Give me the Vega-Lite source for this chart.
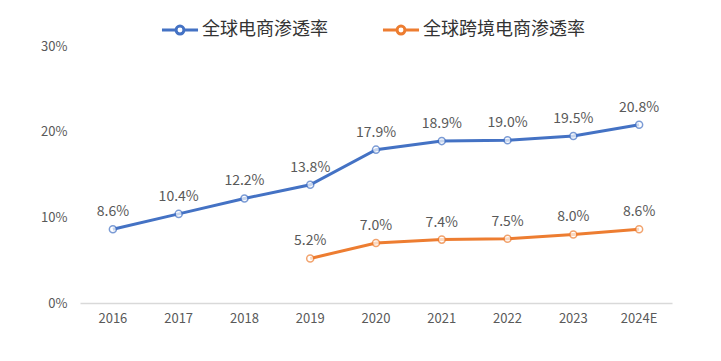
{
  "$schema": "https://vega.github.io/schema/vega-lite/v6.json",
  "width": 592,
  "height": 257,
  "autosize": {"type": "none"},
  "padding": {"left": 80, "top": 46, "right": 49, "bottom": 58},
  "background": "white",
  "config": {
    "font": "Noto Sans CJK SC",
    "view": {"stroke": null}
  },
  "data": {
    "values": [
      {"year": "2016", "series": "全球电商渗透率", "v": 0.086},
      {"year": "2017", "series": "全球电商渗透率", "v": 0.104},
      {"year": "2018", "series": "全球电商渗透率", "v": 0.122},
      {"year": "2019", "series": "全球电商渗透率", "v": 0.138},
      {"year": "2020", "series": "全球电商渗透率", "v": 0.179},
      {"year": "2021", "series": "全球电商渗透率", "v": 0.189},
      {"year": "2022", "series": "全球电商渗透率", "v": 0.190},
      {"year": "2023", "series": "全球电商渗透率", "v": 0.195},
      {"year": "2024E", "series": "全球电商渗透率", "v": 0.208},
      {"year": "2019", "series": "全球跨境电商渗透率", "v": 0.052},
      {"year": "2020", "series": "全球跨境电商渗透率", "v": 0.070},
      {"year": "2021", "series": "全球跨境电商渗透率", "v": 0.074},
      {"year": "2022", "series": "全球跨境电商渗透率", "v": 0.075},
      {"year": "2023", "series": "全球跨境电商渗透率", "v": 0.080},
      {"year": "2024E", "series": "全球跨境电商渗透率", "v": 0.086}
    ]
  },
  "encoding": {
    "x": {
      "field": "year", "type": "ordinal", "sort": null,
      "scale": {"type": "band", "paddingInner": 0, "paddingOuter": 0},
      "axis": {
        "title": null, "labelAngle": 0, "ticks": false, "domainColor": "#d9d9d9", "domainWidth": 1.5,
        "labelColor": "#595959", "labelFontSize": 13, "labelPadding": 9, "grid": false
      }
    },
    "y": {
      "field": "v", "type": "quantitative",
      "scale": {"domain": [0, 0.3]},
      "axis": {
        "title": null, "format": ".0%", "values": [0, 0.1, 0.2, 0.3], "labelOverlap": false,
        "ticks": false, "domain": false, "grid": false,
        "labelColor": "#595959", "labelFontSize": 13, "labelPadding": 13
      }
    }
  },
  "layer": [
    {
      "mark": {"type": "line", "strokeWidth": 3},
      "encoding": {
        "color": {
          "field": "series", "type": "nominal",
          "scale": {"domain": ["全球电商渗透率", "全球跨境电商渗透率"], "range": ["#4472C4", "#ED7D31"]},
          "legend": {
            "title": null, "orient": "none", "direction": "horizontal",
            "legendX": 80, "legendY": -36,
            "symbolType": "M-1,0H-0.22M0.22,0H1M0.22,0A0.22,0.22 0 1,1 -0.22,0A0.22,0.22 0 1,1 0.22,0",
            "symbolSize": 1300, "symbolStrokeWidth": 3,
            "labelFontSize": 18, "labelColor": "#333333", "columnPadding": 48, "labelOffset": 2,
            "labelLimit": 400,
            "encode": {"symbols": {"update": {"fill": {"value": "white"}}}}
          }
        }
      }
    },
    {
      "mark": {"type": "point", "filled": true, "fill": "white", "size": 50, "strokeWidth": 1.5},
      "encoding": {
        "stroke": {
          "field": "series", "type": "nominal",
          "scale": {"domain": ["全球电商渗透率", "全球跨境电商渗透率"], "range": ["#4472C4", "#ED7D31"]},
          "legend": null
        }
      }
    },
    {
      "mark": {"type": "text", "dy": -17, "fontSize": 14, "color": "#595959"},
      "encoding": {
        "text": {"field": "v", "type": "quantitative", "format": ".1%"}
      }
    }
  ]
}
